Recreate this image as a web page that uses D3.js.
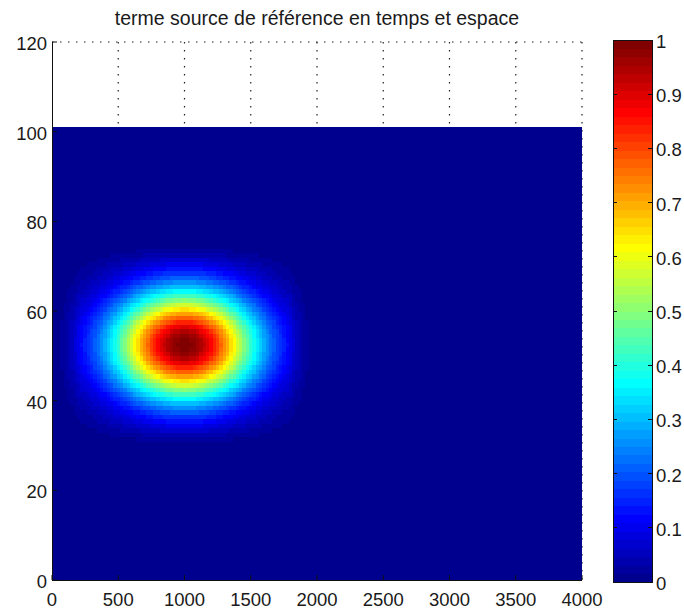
<!DOCTYPE html>
<html>
<head>
<meta charset="utf-8">
<script src="https://cdn.jsdelivr.net/npm/d3@7"></script>
<style>
  body { margin: 0; background: #fff; }
  svg text { font-family: "Liberation Sans", Arial, sans-serif; fill: #1a1a1a; }
</style>
</head>
<body>
<div class="chart"></div>
<script>
"use strict";
// source term: profile along x (every 25 units from 0)
var xStart = 0, xStep = 25;
var xProfile = [
  0.003, 0.006, 0.012, 0.020, 0.030, 0.045, 0.060, 0.080, 0.109, 0.125,
  0.143, 0.162, 0.183, 0.206, 0.232, 0.259, 0.288, 0.318, 0.351, 0.385,
  0.421, 0.458, 0.496, 0.535, 0.575, 0.615, 0.654, 0.694, 0.732, 0.770,
  0.805, 0.839, 0.871, 0.899, 0.925, 0.947, 0.966, 0.981, 0.991, 0.998,
  1.000,
  0.998, 0.991, 0.981, 0.966, 0.947, 0.925, 0.899, 0.871, 0.839, 0.805,
  0.770, 0.732, 0.694, 0.654, 0.615, 0.575, 0.535, 0.496, 0.458, 0.421,
  0.385, 0.351, 0.318, 0.288, 0.259, 0.232, 0.206, 0.183, 0.162, 0.143,
  0.125, 0.109, 0.080, 0.060, 0.045, 0.030, 0.020, 0.012, 0.006, 0.003
];
// profile along y, one value per row starting at row 29
var yStart = 29;
var yProfile = [
  0.005, 0.012, 0.025, 0.045, 0.070, 0.100, 0.135, 0.170,
  0.211, 0.258, 0.311, 0.369, 0.433, 0.501, 0.571, 0.642, 0.713, 0.779,
  0.841, 0.895, 0.940, 0.973, 0.993, 1.000, 0.993, 0.973, 0.940, 0.895,
  0.841, 0.779, 0.713, 0.642, 0.571, 0.501, 0.433, 0.369, 0.311, 0.258,
  0.211, 0.170, 0.135, 0.100, 0.070, 0.045, 0.025, 0.012, 0.005
];
var dataXMax = 4000, dataYMax = 101;
var xTickValues = [0, 500, 1000, 1500, 2000, 2500, 3000, 3500, 4000];
var yTickValues = [0, 20, 40, 60, 80, 100, 120];
var cTickValues = [0, 0.1, 0.2, 0.3, 0.4, 0.5, 0.6, 0.7, 0.8, 0.9, 1];
var titleText = "terme source de r\u00e9f\u00e9rence en temps et espace";

// matlab jet(64)
function jet64(){
  var m = 64, n = 16, u = [], i, cols = [];
  for(i=1;i<=n;i++) u.push(i/n);
  for(i=1;i<n;i++) u.push(1);
  for(i=n;i>=1;i--) u.push(i/n);
  var r = [], g = [], b = [];
  for(i=0;i<m;i++){ r.push(0); g.push(0); b.push(0); }
  u.forEach(function(v, k){
    var gi = 8 + k, ri = gi + n, bi = gi - n;
    if(gi < m) g[gi] = v;
    if(ri < m) r[ri] = v;
    if(bi >= 0 && bi < m) b[bi] = v;
  });
  for(i=0;i<m;i++) cols.push(d3.rgb(r[i]*255, g[i]*255, b[i]*255).formatHex());
  return cols;
}

var W = 684, H = 610;
var margin = {top: 42, left: 52, right: 102, bottom: 30};
var plotW = 582 - margin.left, plotH = 580 - margin.top;

var x = d3.scaleLinear().domain([0, 4000]).range([margin.left, margin.left + plotW]);
var y = d3.scaleLinear().domain([0, 120]).range([margin.top + plotH, margin.top]);
var color = d3.scaleQuantize().domain([0, 1]).range(jet64());
var cbY = d3.scaleLinear().domain([0, 1]).range([582, 40]);
var cbX0 = 613, cbX1 = 652;

var svg = d3.select(".chart").append("svg")
  .attr("width", W).attr("height", H);

// grid (under the image)
var grid = svg.append("g").attr("class", "grid")
  .attr("stroke", "#222").attr("stroke-width", 1.2).attr("stroke-dasharray", "1.5,6.5");
grid.selectAll(".gx").data(xTickValues.slice(1)).enter().append("line")
  .attr("x1", function(d){ return x(d); }).attr("x2", function(d){ return x(d); })
  .attr("y1", y(120)).attr("y2", y(0));
grid.append("line")
  .attr("x1", x(0)).attr("x2", x(4000))
  .attr("y1", y(120)).attr("y2", y(120));

// image
var cells = [];
yProfile.forEach(function(vy, j){
  xProfile.forEach(function(vx, i){
    var xc = xStart + i*xStep;
    cells.push({x0: Math.max(0, xc - xStep/2), x1: xc + xStep/2,
                y0: yStart + j, y1: yStart + j + 1, v: vx*vy});
  });
});
var img = svg.append("g").attr("class", "image").attr("shape-rendering", "crispEdges");
img.append("rect")
  .attr("x", x(0)).attr("y", y(dataYMax))
  .attr("width", x(dataXMax) - x(0)).attr("height", y(0) - y(dataYMax))
  .attr("fill", color(0));
img.selectAll(".cell").data(cells).enter().append("rect")
  .attr("class", "cell")
  .attr("x", function(d){ return x(d.x0); })
  .attr("y", function(d){ return y(d.y1); })
  .attr("width", function(d){ return x(d.x1) - x(d.x0) + 0.5; })
  .attr("height", function(d){ return y(d.y0) - y(d.y1) + 0.5; })
  .attr("fill", function(d){ return color(d.v); });

// axes
var axes = svg.append("g").attr("class", "axes").attr("stroke", "#111").attr("stroke-width", 1);
axes.append("line").attr("x1", x(0)).attr("x2", x(4000)).attr("y1", y(0)+0.5).attr("y2", y(0)+0.5);
axes.append("line").attr("x1", x(0)+0.5).attr("x2", x(0)+0.5).attr("y1", y(0)).attr("y2", y(120));
axes.selectAll(".tx").data(xTickValues).enter().append("line")
  .attr("x1", function(d){ return x(d); }).attr("x2", function(d){ return x(d); })
  .attr("y1", y(0)).attr("y2", y(0) - 5);
axes.selectAll(".ty").data(yTickValues).enter().append("line")
  .attr("x1", x(0)).attr("x2", x(0) + 5)
  .attr("y1", function(d){ return y(d); }).attr("y2", function(d){ return y(d); });

svg.selectAll(".xl").data(xTickValues).enter().append("text")
  .attr("x", function(d){ return x(d); }).attr("y", y(0) + 26)
  .attr("text-anchor", "middle").style("font-size", "18.5px")
  .text(function(d){ return d; });
svg.selectAll(".yl").data(yTickValues).enter().append("text")
  .attr("x", x(0) - 5).attr("y", function(d){ return y(d) + 8; })
  .attr("text-anchor", "end").style("font-size", "18.5px")
  .text(function(d){ return d; });

svg.append("text").attr("x", (x(0) + x(4000))/2).attr("y", 25)
  .attr("text-anchor", "middle").style("font-size", "19.5px")
  .text(titleText);

// colorbar
var levels = d3.range(64);
var cb = svg.append("g").attr("class", "colorbar").attr("shape-rendering", "crispEdges");
cb.selectAll("rect").data(levels).enter().append("rect")
  .attr("x", cbX0).attr("width", cbX1 - cbX0)
  .attr("y", function(d){ return cbY((d+1)/64); })
  .attr("height", function(d){ return cbY(d/64) - cbY((d+1)/64) + 0.5; })
  .attr("fill", function(d){ return color((d+0.5)/64); });
cb.append("rect").attr("x", cbX0 + 0.5).attr("y", cbY(1) + 0.5)
  .attr("width", cbX1 - cbX0).attr("height", cbY(0) - cbY(1))
  .attr("fill", "none").attr("stroke", "#111");
cb.selectAll(".tl").data(cTickValues).enter().append("line")
  .attr("x1", cbX0).attr("x2", cbX0 + 4)
  .attr("y1", function(d){ return cbY(d); }).attr("y2", function(d){ return cbY(d); })
  .attr("stroke", "#111");
cb.selectAll(".tr").data(cTickValues).enter().append("line")
  .attr("x1", cbX1 - 4).attr("x2", cbX1 + 1)
  .attr("y1", function(d){ return cbY(d); }).attr("y2", function(d){ return cbY(d); })
  .attr("stroke", "#111");
svg.selectAll(".cl").data(cTickValues).enter().append("text")
  .attr("x", cbX1 + 4).attr("y", function(d){ return cbY(d) + 8; })
  .style("font-size", "18.5px")
  .text(function(d){ return d; });
</script>
</body>
</html>
